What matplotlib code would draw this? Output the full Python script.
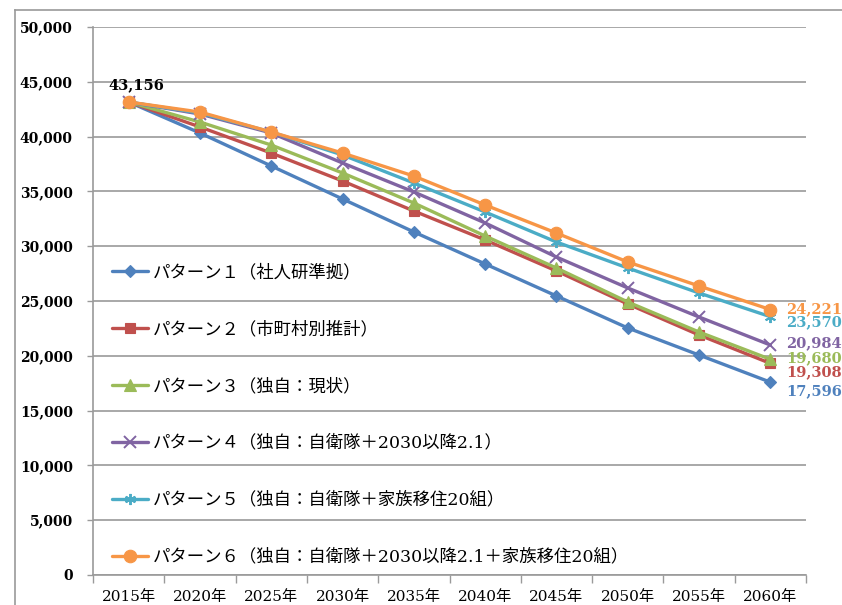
import matplotlib
matplotlib.use("Agg")
import matplotlib.pyplot as plt
from matplotlib.font_manager import FontProperties
from matplotlib.lines import Line2D
from matplotlib.ticker import FuncFormatter, FixedLocator

# --- data -------------------------------------------------------------
years = ["2015年", "2020年", "2025年", "2030年", "2035年",
         "2040年", "2045年", "2050年", "2055年", "2060年"]

pattern1 = [43156, 40330, 37320, 34310, 31300, 28380, 25460, 22540, 20070, 17596]
pattern2 = [43156, 40880, 38500, 35950, 33210, 30570, 27740, 24730, 21900, 19308]
pattern3 = [43156, 41330, 39230, 36680, 33940, 30930, 28010, 24910, 22170, 19680]
pattern4 = [43156, 42060, 40330, 37590, 34950, 32120, 29010, 26190, 23540, 20984]
pattern5 = [43156, 42150, 40420, 38320, 35770, 33120, 30380, 28010, 25730, 23570]
pattern6 = [43156, 42240, 40420, 38500, 36400, 33760, 31200, 28560, 26370, 24221]

series_names = [
    "パターン１（社人研準拠）",
    "パターン２（市町村別推計）",
    "パターン３（独自：現状）",
    "パターン４（独自：自衛隊＋2030以降2.1）",
    "パターン５（独自：自衛隊＋家族移住20組）",
    "パターン６（独自：自衛隊＋2030以降2.1＋家族移住20組）",
]
series_values = [pattern1, pattern2, pattern3, pattern4, pattern5, pattern6]

# --- styles -----------------------------------------------------------
colors = ["#4F81BD", "#C0504D", "#9BBB59", "#8064A2", "#4BACC6", "#F79646"]
markers = ["D", "s", "^", "x", (6, 2, 0), "o"]
marker_sizes = [6.5, 7, 8, 8, 8, 9]
# vertical pixel nudges for the end-of-line value labels
end_label_dy = [9, 9, -1, -2, 6, 0]

num_font = ["DejaVu Serif", "Noto Sans CJK JP"]
gray = "#9A9A9A"

W, H = 842, 605
fig = plt.figure(figsize=(W / 100, H / 100), dpi=100)

# outer chart frame
fig.add_artist(Line2D([15 / W, 15 / W], [0, 1 - 10 / H], transform=fig.transFigure,
                      color=gray, lw=1.2))
fig.add_artist(Line2D([15 / W, 1], [1 - 10 / H, 1 - 10 / H], transform=fig.transFigure,
                      color=gray, lw=1.2))

ax = fig.add_axes([93 / W, 1 - 575 / H, (806 - 93) / W, (575 - 27) / H])

x = list(range(len(years)))
handles = []
for vals, name, c, m, ms in zip(series_values, series_names, colors, markers, marker_sizes):
    filled = m not in ("x", (6, 2, 0))
    h, = ax.plot(x, vals, color=c, lw=2.4, marker=m, markersize=ms,
                 markerfacecolor=c if filled else "none", markeredgecolor=c,
                 markeredgewidth=1.4 if not filled else 0.8, label=name,
                 solid_capstyle="round", clip_on=False)
    handles.append(h)

ax.set_xlim(-0.5, len(years) - 0.5)
ax.set_ylim(0, 50000)

# y axis
ax.set_yticks(range(0, 50001, 5000))
ax.yaxis.set_major_formatter(FuncFormatter(lambda v, p: f"{int(v):,}"))
ax.tick_params(axis="y", direction="out", length=4.5, width=1, color=gray, pad=10)
for lbl in ax.get_yticklabels():
    lbl.set_fontfamily(num_font)
    lbl.set_fontweight("bold")
    lbl.set_fontsize(10)

# x axis: labels centred on categories, tick marks between them
ax.set_xticks(x)
ax.set_xticklabels(years, fontfamily=num_font, fontsize=11)
ax.tick_params(axis="x", which="major", length=0, pad=11)
ax.xaxis.set_minor_locator(FixedLocator([i - 0.5 for i in range(len(years) + 1)]))
ax.tick_params(axis="x", which="minor", direction="out", length=6, width=1, color=gray)

ax.grid(axis="y", color=gray, lw=1.2)
ax.set_axisbelow(True)
for s in ("top", "right"):
    ax.spines[s].set_visible(False)
for s in ("left", "bottom"):
    ax.spines[s].set_color(gray)
    ax.spines[s].set_linewidth(1.2)

# starting value label
ax.annotate(f"{pattern1[0]:,}", (x[0], pattern1[0]), xytext=(8, 17),
            textcoords="offset pixels", ha="center", va="center",
            fontfamily=num_font, fontweight="bold", fontsize=10.5, color="black")

# final value labels
for vals, c, dy in zip(series_values, colors, end_label_dy):
    ax.annotate(f"{vals[-1]:,}", (x[-1], vals[-1]), xytext=(16, -dy),
                textcoords="offset pixels", ha="left", va="center",
                fontfamily=num_font, fontweight="bold", fontsize=10.5, color=c,
                annotation_clip=False)

leg = ax.legend(handles=handles, loc="upper left",
                bbox_to_anchor=(112 / W, 1 - 264 / H), bbox_transform=fig.transFigure,
                frameon=False, borderpad=0, borderaxespad=0,
                handlelength=2.1, handletextpad=0.25, labelspacing=2.3,
                prop=FontProperties(family=num_font, size=12.5))

fig.savefig("out.png", dpi=100, facecolor="white")
